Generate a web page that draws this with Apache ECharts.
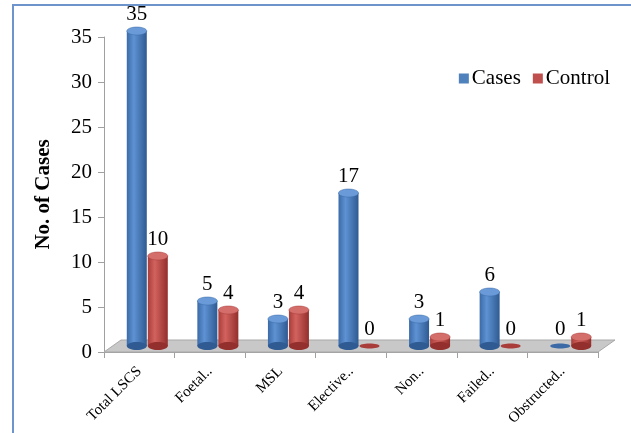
<!DOCTYPE html>
<html>
<head>
<meta charset="utf-8">
<script src="https://cdn.jsdelivr.net/npm/echarts@6/dist/echarts.min.js"></script>
<style>
  html, body { margin: 0; padding: 0; background: #fff; }
  #chart { width: 631px; height: 433px; }
</style>
</head>
<body>
<div id="chart"></div>
<script>
// data
var categories = ['Total LSCS', 'Foetal..', 'MSL', 'Elective..', 'Non..', 'Failed..', 'Obstructed..'];
var casesValues = [35, 5, 3, 17, 3, 6, 0];
var controlValues = [10, 4, 4, 0, 1, 0, 1];
var yTicks = [0, 5, 10, 15, 20, 25, 30, 35];

var serif = '"Liberation Serif", "DejaVu Serif", serif';

// colours for cylinders: [edge, highlight, edge dark, top]
var palette = {
  Cases: ['#3b6aa7', '#5e92d3', '#2f5a92', '#6a9bd8'],
  Control: ['#a93d3a', '#d2625e', '#932f2c', '#d46e6a']
};

function cylinder(shift, name) {
  return function (params, api) {
    var cat = api.value(0), val = api.value(1);
    var base = api.coord([cat, 0]);
    var top = api.coord([cat, val]);
    var c = palette[name];
    var w = 20, ry = 4;
    var cx = base[0] + 8 + shift;
    var yb = base[1] - 6;
    var yt = top[1] - 6;
    var kids = [];
    if (val > 0) {
      kids.push({
        type: 'rect',
        shape: { x: cx - w / 2, y: yt, width: w, height: yb - yt },
        style: {
          fill: new echarts.graphic.LinearGradient(0, 0, 1, 0, [
            { offset: 0, color: c[0] },
            { offset: 0.35, color: c[1] },
            { offset: 1, color: c[2] }
          ])
        }
      });
      kids.push({
        type: 'ellipse',
        shape: { cx: cx, cy: yb, rx: w / 2, ry: ry },
        style: { fill: c[2] }
      });
      kids.push({
        type: 'ellipse',
        shape: { cx: cx, cy: yt, rx: w / 2, ry: ry },
        style: { fill: c[3], stroke: c[0], lineWidth: 0.5 }
      });
    } else {
      kids.push({
        type: 'ellipse',
        shape: { cx: cx, cy: yb, rx: w / 2, ry: 2.5 },
        style: { fill: c[0] }
      });
    }
    kids.push({
      type: 'text',
      style: {
        text: String(val),
        x: cx, y: yt - 6,
        align: 'center', verticalAlign: 'bottom',
        font: '21px ' + serif, fill: '#000'
      }
    });
    return { type: 'group', children: kids };
  };
}

function pairs(values) {
  return values.map(function (v, i) { return [i, v]; });
}

var gridLeft = 104, gridRight = 33, gridTop = 37, gridBottom = 81;

var myChart = echarts.init(document.getElementById('chart'));

var option = {
  backgroundColor: '#fff',
  animation: false,
  grid: { left: gridLeft, right: gridRight, top: gridTop, bottom: gridBottom },
  legend: {
    data: ['Cases', 'Control'],
    right: 16, top: 63,
    icon: 'rect', itemWidth: 10, itemHeight: 10, itemGap: 12,
    textStyle: { fontFamily: serif, fontSize: 21, color: '#000', padding: [0, 0, 0, -2] }
  },
  xAxis: {
    type: 'category',
    data: categories,
    axisLine: { lineStyle: { color: '#a0a0a0', width: 1 } },
    axisTick: { show: true, length: 6, lineStyle: { color: '#a0a0a0' } },
    axisLabel: { rotate: 45, interval: 0, margin: 17, fontFamily: serif, fontSize: 15, color: '#000' }
  },
  yAxis: {
    type: 'value',
    min: yTicks[0], max: yTicks[yTicks.length - 1], interval: 5,
    name: 'No. of Cases',
    nameLocation: 'middle', nameGap: 50,
    nameTextStyle: { fontFamily: serif, fontSize: 21, fontWeight: 'bold', color: '#000' },
    axisLine: { show: true, lineStyle: { color: '#a0a0a0' } },
    axisTick: { show: true, length: 6, lineStyle: { color: '#a0a0a0' } },
    axisLabel: { fontFamily: serif, fontSize: 21, color: '#000', margin: 12 },
    splitLine: { show: false }
  },
  graphic: [
    {
      type: 'polygon', z: 1,
      shape: {
        points: [
          [gridLeft, 433 - gridBottom], [631 - gridRight, 433 - gridBottom],
          [631 - gridRight + 17, 433 - gridBottom - 12], [gridLeft + 17, 433 - gridBottom - 12]
        ]
      },
      style: { fill: '#c8c8c8', stroke: '#a8a8a8', lineWidth: 1 }
    },
    {
      type: 'polyline', z: 1,
      shape: { points: [[13, 433], [13, 5], [631, 5]] },
      style: { stroke: '#6d95cc', lineWidth: 2, fill: null }
    }
  ],
  series: [
    {
      name: 'Cases', type: 'custom', z: 5,
      itemStyle: { color: '#4f81bd' },
      renderItem: cylinder(-10.5, 'Cases'),
      data: pairs(casesValues)
    },
    {
      name: 'Control', type: 'custom', z: 5,
      itemStyle: { color: '#c0504d' },
      renderItem: cylinder(10.5, 'Control'),
      data: pairs(controlValues)
    }
  ]
};

myChart.setOption(option);
</script>
</body>
</html>
